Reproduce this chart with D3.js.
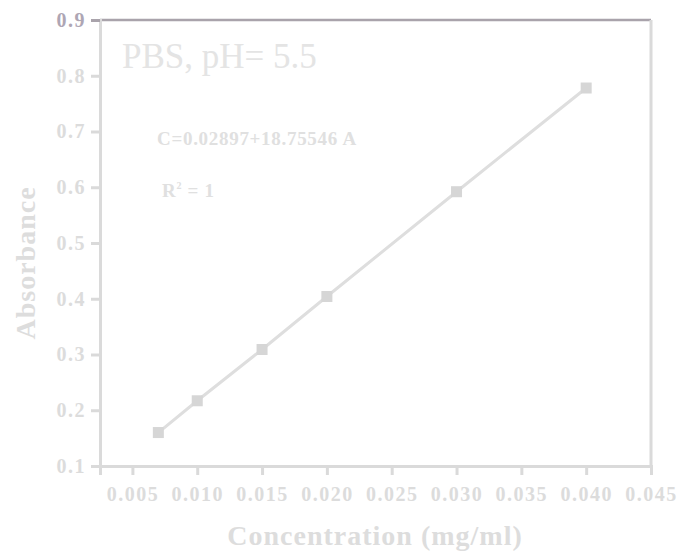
<!DOCTYPE html>
<html><head><meta charset="utf-8">
<script src="https://cdn.jsdelivr.net/npm/d3@7"></script>
<style>body{margin:0;background:#fff}svg{display:block}text{font-family:"Liberation Serif","Times New Roman",serif}</style>
</head><body>
<svg id="c" width="680" height="554"></svg>
<script>
const concentration = [0.007, 0.010, 0.015, 0.020, 0.030, 0.040];
const absorbance = [0.160, 0.217, 0.309, 0.404, 0.592, 0.778];
const xTicks = [0.005, 0.010, 0.015, 0.020, 0.025, 0.030, 0.035, 0.040, 0.045];
const yTicks = [0.1, 0.2, 0.3, 0.4, 0.5, 0.6, 0.7, 0.8, 0.9];
const title = "PBS, pH= 5.5";
const equation = "C=0.02897+18.75546 A";

const svg = d3.select("#c");
const L = 100, R = 651, T = 20, B = 466;
const x = d3.scaleLinear().domain([0.0025, 0.045]).range([L, R]);
const y = d3.scaleLinear().domain([0.1, 0.9]).range([B, T]);
const grey = "#dadada";

// frame top & right
svg.append("line").attr("x1", L).attr("x2", R).attr("y1", T).attr("y2", T)
  .attr("stroke", "#a9a3ab").attr("stroke-width", 2.5);
svg.append("line").attr("x1", R).attr("x2", R).attr("y1", T).attr("y2", B)
  .attr("stroke", grey).attr("stroke-width", 3);

const xAxis = svg.append("g").attr("transform", `translate(0,${B})`)
  .call(d3.axisBottom(x).tickValues(xTicks).tickFormat(d3.format(".3f")).tickSize(9).tickPadding(7));
const yAxis = svg.append("g").attr("transform", `translate(${L},0)`)
  .call(d3.axisLeft(y).tickValues(yTicks).tickFormat(d3.format(".1f")).tickSize(9).tickPadding(5));
[xAxis, yAxis].forEach(g => {
  g.select(".domain").attr("stroke", grey).attr("stroke-width", 3);
  g.selectAll(".tick line").attr("stroke", grey).attr("stroke-width", 3);
  g.selectAll(".tick text").attr("fill", "#dcdcdc").attr("font-size", 20).attr("font-weight", "bold")
    .attr("font-family", '"Liberation Serif",serif').style("letter-spacing", "1.5px");
});
xAxis.selectAll(".tick text").attr("dy", "0.95em");
yAxis.selectAll(".tick text").filter(d => d === 0.9).attr("fill", "#aea6b4");
yAxis.selectAll(".tick line").filter(d => d === 0.9).attr("stroke", "#a9a3ab");

const line = d3.line().x((d, i) => x(concentration[i])).y(d => y(d));
svg.append("path").datum(absorbance).attr("d", line).attr("fill", "none")
  .attr("stroke", "#dedede").attr("stroke-width", 3);
svg.selectAll("rect.pt").data(absorbance).enter().append("rect")
  .attr("x", (d, i) => x(concentration[i]) - 5.5).attr("y", d => y(d) - 5.5)
  .attr("width", 11).attr("height", 11).attr("fill", "#d6d6d6");

svg.append("text").attr("x", 122).attr("y", 68).attr("font-size", 35).attr("fill", "#e4e4e4").text(title);
svg.append("text").attr("x", 157).attr("y", 145).attr("font-size", 19).attr("font-weight", "bold")
  .attr("fill", "#e0e0e0").style("letter-spacing", "0.7px").text(equation);
const r2 = svg.append("text").attr("x", 162).attr("y", 197).attr("font-size", 19).attr("font-weight", "bold").attr("fill", "#e0e0e0").style("letter-spacing", "0.7px");
r2.append("tspan").text("R");
r2.append("tspan").attr("font-size", 10).attr("dy", -8).text("2");
r2.append("tspan").attr("dy", 8).text(" = 1");

svg.append("text").attr("x", (228 + 522) / 2).attr("y", 545).attr("text-anchor", "middle")
  .attr("font-size", 28).attr("font-weight", "bold").attr("fill", "#dddddd").style("letter-spacing", "1px")
  .text("Concentration (mg/ml)");
svg.append("text").attr("transform", "translate(35,263) rotate(-90)").attr("text-anchor", "middle")
  .attr("font-size", 28).attr("font-weight", "bold").attr("fill", "#dddddd").style("letter-spacing", "1px")
  .text("Absorbance");
</script>
</body></html>
